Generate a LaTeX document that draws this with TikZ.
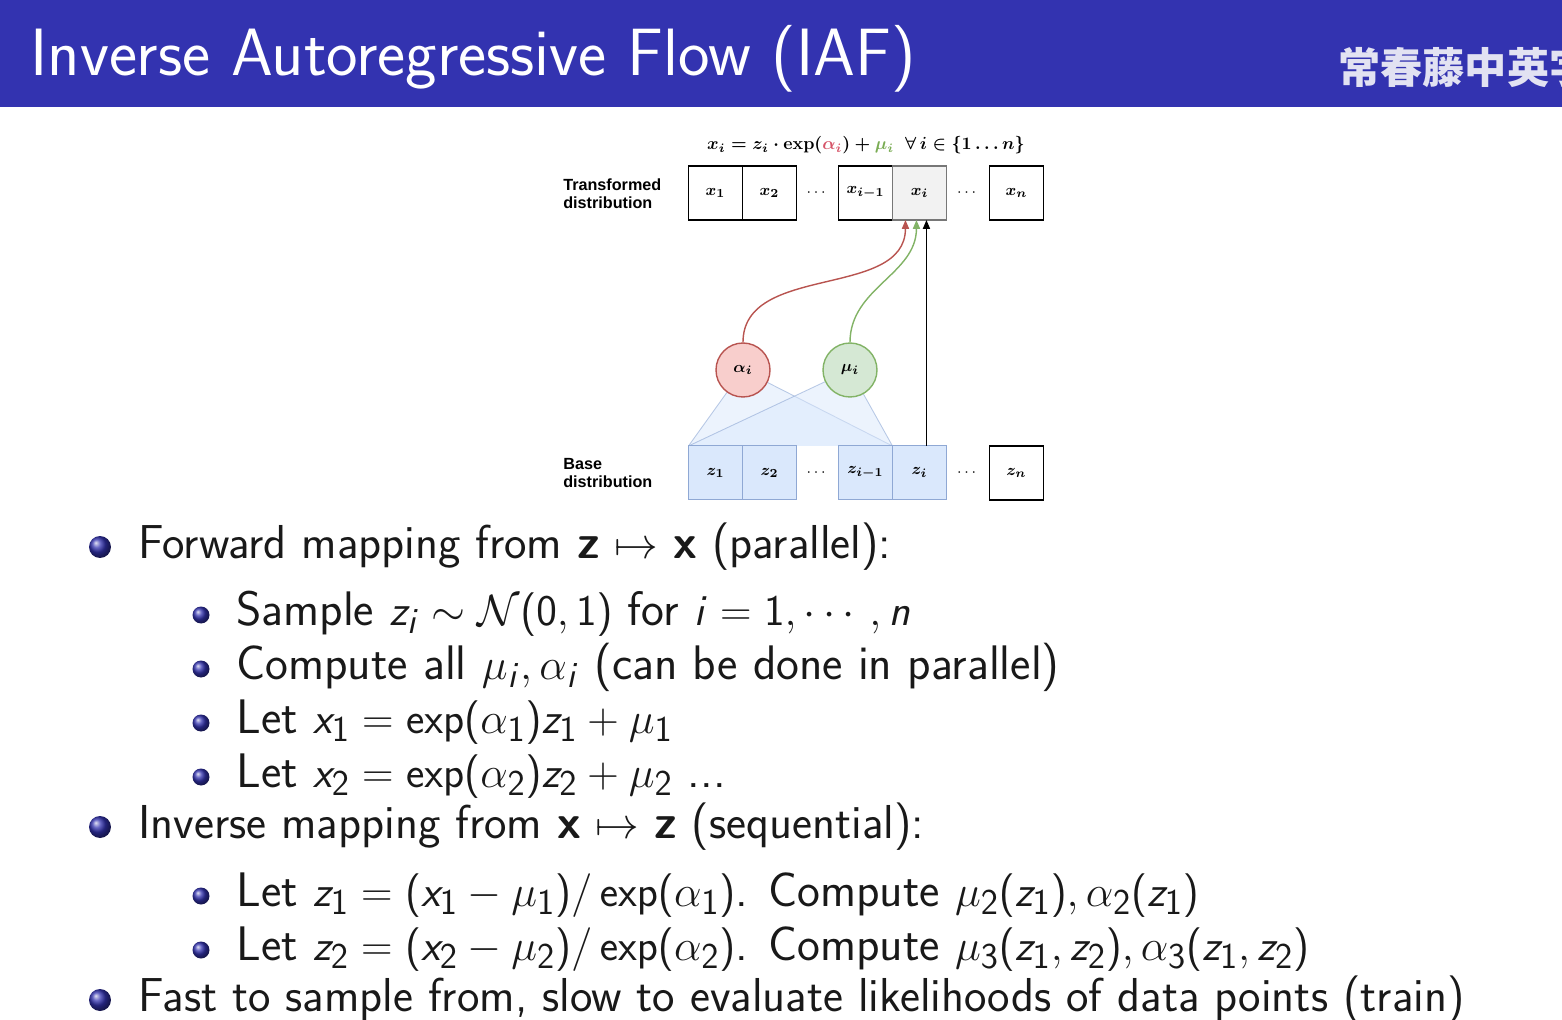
\documentclass[tikz,border=0pt]{standalone}
\usepackage[no-math]{fontspec}
\usepackage{amsmath}
\usepackage{amssymb}
\usetikzlibrary{positioning,arrows.meta,backgrounds}

\newfontfamily\diagfont{Liberation Sans}
\newfontfamily\cjkfont{Noto Sans CJK SC}

% sans letters and digits for the slide text, bold serif ones for the diagram
\DeclareSymbolFont{sfletters}{OT1}{cmss}{m}{sl}
\SetSymbolFont{sfletters}{bold}{OML}{cmm}{b}{it}
\SetSymbolFont{operators}{normal}{OT1}{cmss}{m}{n}
\DeclareMathSymbol{x}{\mathalpha}{sfletters}{`x}
\DeclareMathSymbol{z}{\mathalpha}{sfletters}{`z}
\DeclareMathSymbol{i}{\mathalpha}{sfletters}{`i}
\DeclareMathSymbol{n}{\mathalpha}{sfletters}{`n}
\DeclareMathSizes{27.6}{27.6}{21}{15}

\definecolor{titleblue}{RGB}{51,51,176}
\definecolor{logogray}{RGB}{226,226,242}
\definecolor{alphafill}{HTML}{F8CECC}
\definecolor{alphaline}{HTML}{B85450}
\definecolor{mufill}{HTML}{D5E8D4}
\definecolor{muline}{HTML}{82B366}
\definecolor{zfill}{HTML}{DAE8FC}
\definecolor{zline}{HTML}{8FA8D4}
\definecolor{xifill}{HTML}{F2F2F2}
\definecolor{xiline}{HTML}{777777}
\definecolor{alphatext}{RGB}{214,84,104}
\definecolor{mutext}{RGB}{122,172,84}
\definecolor{bodytext}{RGB}{25,25,25}

\begin{document}
\begin{tikzpicture}[
        x=0.02cm, y=-0.02cm,
        cell/.style={
            rectangle,
            draw,
            minimum size=1.08cm,
            inner sep=0pt,
            outer sep=0pt,
            line width=0.8pt,
            font=\boldmath\fontsize{9.4}{10}\selectfont
        },
        zcell/.style={
            cell,
            draw=zline,
            fill=zfill,
            line width=0.6pt
        },
        param/.style={
            circle,
            minimum size=1.08cm,
            inner sep=0pt,
            line width=0.8pt,
            font=\boldmath\fontsize{9.4}{10}\selectfont
        },
        fan/.style={
            fill=zfill,
            fill opacity=0.5,
            draw=zline,
            draw opacity=0.6,
            line width=0.5pt
        },
        arrow/.style={
            -{Triangle[length=5pt,width=4pt]},
            line width=0.8pt
        },
        side/.style={
            align=left,
            anchor=west,
            inner sep=0pt,
            font=\diagfont\bfseries\fontsize{9.2}{10.5}\selectfont
        },
        dots/.style={font=\fontsize{9}{10}\selectfont},
        level1/.style={
            anchor=base west,
            inner sep=0pt,
            text=bodytext,
            font=\sffamily\fontsize{27.1}{30}\selectfont
        },
        level2/.style={
            level1,
            font=\sffamily\fontsize{27.6}{30}\selectfont
        },
        ball1/.style={
            circle,
            inner sep=0pt,
            minimum size=0.44cm,
            shading=ball,
            ball color=titleblue
        },
        ball2/.style={
            ball1,
            minimum size=0.34cm
        }
    ]

    \clip (0,0) rectangle (1562,1020);

    % Title bar
    \fill[titleblue] (0,0) rectangle (1562,107);
    \node[anchor=base west, inner sep=0pt, text=white,
          font=\sffamily\fontsize{38.1}{40}\selectfont] (title) at (30,76)
          {Inverse Autoregressive Flow (IAF)};
    \node[anchor=west, inner sep=0pt, text=logogray,
          font=\cjkfont\bfseries\fontsize{24}{26}\selectfont] (logo) at (1338,67)
          {常春藤中英字};

    % Transformed distribution
    \node[cell] (x1) at (715.5,193) {$x_1$};
    \node[cell, right=0pt of x1] (x2) {$x_2$};
    \node[cell, right=0.84cm of x2] (xim1) {$x_{i-1}$};
    \node[cell, right=0pt of xim1, draw=xiline, fill=xifill] (xi) {$x_i$};
    \node[cell, right=0.86cm of xi] (xn) {$x_n$};
    \path (x2) -- node[dots] (tdots1) {$\cdots$} (xim1);
    \path (xi) -- node[dots] (tdots2) {$\cdots$} (xn);
    \node[side] (tlabel) at (563,194) {Transformed\\distribution};

    % Update rule
    \node[font=\boldmath\fontsize{9.6}{10}\selectfont] (rule) at (866,145)
        {$x_i = z_i \cdot \exp(\textcolor{alphatext}{\alpha_i}) + \textcolor{mutext}{\mu_i}\ \ \forall\, i \in \{1\ldots n\}$};

    % Base distribution
    \node[zcell, below=4.52cm of x1] (z1) {$z_1$};
    \node[zcell, right=0pt of z1] (z2) {$z_2$};
    \node[zcell, right=0.84cm of z2] (zim1) {$z_{i-1}$};
    \node[zcell, right=0pt of zim1] (zi) {$z_i$};
    \node[cell, right=0.86cm of zi] (zn) {$z_n$};
    \path (z2) -- node[dots] (bdots1) {$\cdots$} (zim1);
    \path (zi) -- node[dots] (bdots2) {$\cdots$} (zn);
    \node[side] (blabel) at (563,473) {Base\\distribution};

    % Shift and scale
    \node[param, draw=alphaline, fill=alphafill] (alpha) at (743,370) {$\alpha_i$};
    \node[param, draw=muline, fill=mufill] (mu) at (850,370) {$\mu_i$};

    % Both depend on z_1 ... z_{i-1}
    \begin{scope}[on background layer]
        \path[fan] (z1.north west) -- (alpha.center) -- (zim1.north east);
        \path[fan] (z1.north west) -- (mu.center) -- (zim1.north east);
    \end{scope}

    % Connections into x_i
    \draw[arrow] ([xshift=0.14cm]zi.north) -- ([xshift=0.14cm]xi.south);
    \draw[arrow, alphaline] (alpha.north) to[out=90, in=-90] ([xshift=-0.28cm]xi.south);
    \draw[arrow, muline] (mu.north) to[out=90, in=-90] ([xshift=-0.06cm]xi.south);

    % Forward mapping
    \node[ball1] (b1) at (100,547) {};
    \node[level1] (l1) at (138,558) {Forward mapping from \textbf{z} $\mapsto$ \textbf{x} (parallel):};
    \node[ball2] (b11) at (201,615) {};
    \node[level2] (l11) at (236,625) {Sample $z_i \sim \mathcal{N}(0,1)$ for $i = 1, \cdots, n$};
    \node[ball2] (b12) at (201,669) {};
    \node[level2] (l12) at (236,679) {Compute all $\mu_i, \alpha_i$ (can be done in parallel)};
    \node[ball2] (b13) at (201,723) {};
    \node[level2] (l13) at (236,733) {Let $x_1 = \exp(\alpha_1) z_1 + \mu_1$};
    \node[ball2] (b14) at (201,777) {};
    \node[level2] (l14) at (236,787) {Let $x_2 = \exp(\alpha_2) z_2 + \mu_2$ ...};

    % Inverse mapping
    \node[ball1] (b2) at (100,827) {};
    \node[level1] (l2) at (138,838) {Inverse mapping from \textbf{x} $\mapsto$ \textbf{z} (sequential):};
    \node[ball2] (b21) at (201,896) {};
    \node[level2] (l21) at (236,906) {Let $z_1 = (x_1 - \mu_1)/\exp(\alpha_1)$. Compute $\mu_2(z_1), \alpha_2(z_1)$};
    \node[ball2] (b22) at (201,950) {};
    \node[level2] (l22) at (236,960) {Let $z_2 = (x_2 - \mu_2)/\exp(\alpha_2)$. Compute $\mu_3(z_1, z_2), \alpha_3(z_1, z_2)$};

    % Cost
    \node[ball1] (b3) at (100,1000) {};
    \node[level1] (l3) at (138,1011) {Fast to sample from, slow to evaluate likelihoods of data points (train)};

\end{tikzpicture}
\end{document}
